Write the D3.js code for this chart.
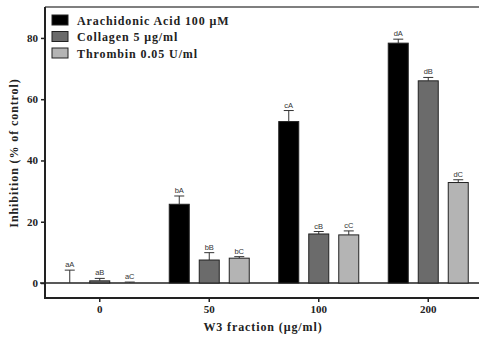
<!DOCTYPE html>
<html>
<head>
<meta charset="utf-8">
<script src="https://cdn.jsdelivr.net/npm/d3@7"></script>
<style>
  body { margin: 0; background: #fff; }
  svg { display: block; font-family: "Liberation Serif", "Times New Roman", serif; }
</style>
</head>
<body>
<div id="chart"></div>
<script>
// doses on the x axis
let doses = ["0", "50", "100", "200"];
let seriesNames = ["Arachidonic Acid 100 \u03bcM", "Collagen 5 \u03bcg/ml", "Thrombin 0.05 U/ml"];
let seriesColors = ["#000000", "#6b6b6b", "#b4b4b4"];

// mean inhibition per dose, one array per agonist
let arachidonic = [0, 25.7, 52.7, 78.3];
let collagen = [0.7, 7.5, 16.0, 66.0];
let thrombin = [0, 8.1, 15.7, 32.8];

// SEM
let arachidonicErr = [4.2, 2.7, 3.6, 1.3];
let collagenErr = [0.8, 2.4, 0.8, 1.1];
let thrombinErr = [0.3, 0.5, 1.3, 0.9];

// letters above each bar
let arachidonicLbl = ["aA", "bA", "cA", "dA"];
let collagenLbl = ["aB", "bB", "cB", "dB"];
let thrombinLbl = ["aC", "bC", "cC", "dC"];

let yTicks = [0, 20, 40, 60, 80];

let w = 479;
let h = 338;

let values = [arachidonic, collagen, thrombin];
let errs = [arachidonicErr, collagenErr, thrombinErr];
let lbls = [arachidonicLbl, collagenLbl, thrombinLbl];

let bars = [];
for (let s = 0; s < values.length; s++) {
  for (let i = 0; i < doses.length; i++) {
    bars.push({ s: s, dose: doses[i], v: values[s][i], e: errs[s][i], lbl: lbls[s][i] });
  }
}

let padLeft = 45, padTop = 7, padBottom = 298;

let svg = d3
  .select("#chart")
  .append("svg")
  .attr("width", w)
  .attr("height", h);

let x = d3.scaleBand().domain(doses).range([padLeft, 483]);
let xs = d3.scaleLinear().domain([-1, 1]).range([-30, 30]);
let y = d3.scaleLinear().domain([-4.9, 90.1]).range([padBottom, padTop]);

let barW = 20;

// frame: top line
svg.append("line")
  .attr("x1", padLeft).attr("x2", w)
  .attr("y1", padTop).attr("y2", padTop)
  .attr("stroke", "#555").attr("stroke-width", 1.5);

// y axis
let yAxis = d3.axisLeft(y).tickValues(yTicks).tickSize(4).tickPadding(3);
let gy = svg.append("g")
  .attr("transform", "translate(" + padLeft + ",0)")
  .call(yAxis);
gy.select(".domain").remove();
gy.selectAll(".tick line").attr("stroke", "#222").attr("stroke-width", 1.5);
gy.selectAll("text")
  .attr("font-size", 11)
  .attr("font-weight", "bold")
  .attr("font-family", "Liberation Serif")
  .attr("fill", "#222");

// x axis
let xAxis = d3.axisBottom(x).tickSize(4).tickPadding(3);
let gx = svg.append("g")
  .attr("transform", "translate(0," + padBottom + ")")
  .call(xAxis);
gx.select(".domain").remove();
gx.selectAll(".tick line").attr("stroke", "#222").attr("stroke-width", 1.5);
gx.selectAll("text")
  .attr("font-size", 11)
  .attr("font-weight", "bold")
  .attr("font-family", "Liberation Serif")
  .attr("fill", "#222");

// axis lines
svg.append("path")
  .attr("d", "M" + padLeft + "," + padTop + "V" + padBottom + "H" + w)
  .attr("fill", "none")
  .attr("stroke", "#222")
  .attr("stroke-width", 2);

// zero line
svg.append("line")
  .attr("x1", padLeft - 5).attr("x2", w)
  .attr("y1", y(0)).attr("y2", y(0))
  .attr("stroke", "#222").attr("stroke-width", 1.5);

function cx(d) {
  return x(d.dose) + x.bandwidth() / 2 + xs(d.s - 1);
}

// error bars (upper only)
let eb = svg.append("g").selectAll("g").data(bars).enter().append("g");
eb.append("line")
  .attr("x1", cx).attr("x2", cx)
  .attr("y1", function(d) { return y(d.v); })
  .attr("y2", function(d) { return y(d.v + d.e); })
  .attr("stroke", "#333").attr("stroke-width", 1);
eb.append("line")
  .attr("x1", function(d) { return cx(d) - 5; })
  .attr("x2", function(d) { return cx(d) + 5; })
  .attr("y1", function(d) { return y(d.v + d.e); })
  .attr("y2", function(d) { return y(d.v + d.e); })
  .attr("stroke", "#333").attr("stroke-width", 1);

// bars
svg.append("g")
  .selectAll("rect")
  .data(bars)
  .enter()
  .append("rect")
  .attr("x", function(d) { return cx(d) - barW / 2; })
  .attr("y", function(d) { return y(Math.max(d.v, 0)); })
  .attr("width", barW)
  .attr("height", function(d) { return Math.abs(y(0) - y(d.v)); })
  .attr("fill", function(d) { return seriesColors[d.s]; })
  .attr("stroke", "#222")
  .attr("stroke-width", 1);

// letters
svg.append("g")
  .selectAll("text")
  .data(bars)
  .enter()
  .append("text")
  .text(function(d) { return d.lbl; })
  .attr("x", cx)
  .attr("y", function(d) { return y(d.v + d.e) - 3; })
  .attr("text-anchor", "middle")
  .attr("font-size", 7.5)
  .attr("font-family", "Liberation Sans")
  .attr("fill", "#333");

// legend
let lg = svg.append("g")
  .selectAll("g")
  .data(seriesNames)
  .enter()
  .append("g")
  .attr("transform", function(d, i) { return "translate(52," + (15 + i * 16.5) + ")"; });
lg.append("rect")
  .attr("width", 16).attr("height", 10)
  .attr("fill", function(d, i) { return seriesColors[i]; })
  .attr("stroke", "#222").attr("stroke-width", 1);
lg.append("text")
  .text(function(d) { return d; })
  .attr("x", 25).attr("y", 9.5)
  .attr("font-size", 12)
  .attr("letter-spacing", 0.9)
  .attr("font-weight", "bold")
  .attr("fill", "#222");

// axis titles
svg.append("text")
  .text("W3 fraction (\u03bcg/ml)")
  .attr("x", 263).attr("y", 331)
  .attr("text-anchor", "middle")
  .attr("font-size", 12)
  .attr("letter-spacing", 0.9)
  .attr("font-weight", "bold")
  .attr("fill", "#222");

svg.append("text")
  .text("Inhibition (% of control)")
  .attr("transform", "translate(18," + 153 + ") rotate(-90)")
  .attr("text-anchor", "middle")
  .attr("font-size", 12)
  .attr("letter-spacing", 0.9)
  .attr("font-weight", "bold")
  .attr("fill", "#222");
</script>
</body>
</html>
